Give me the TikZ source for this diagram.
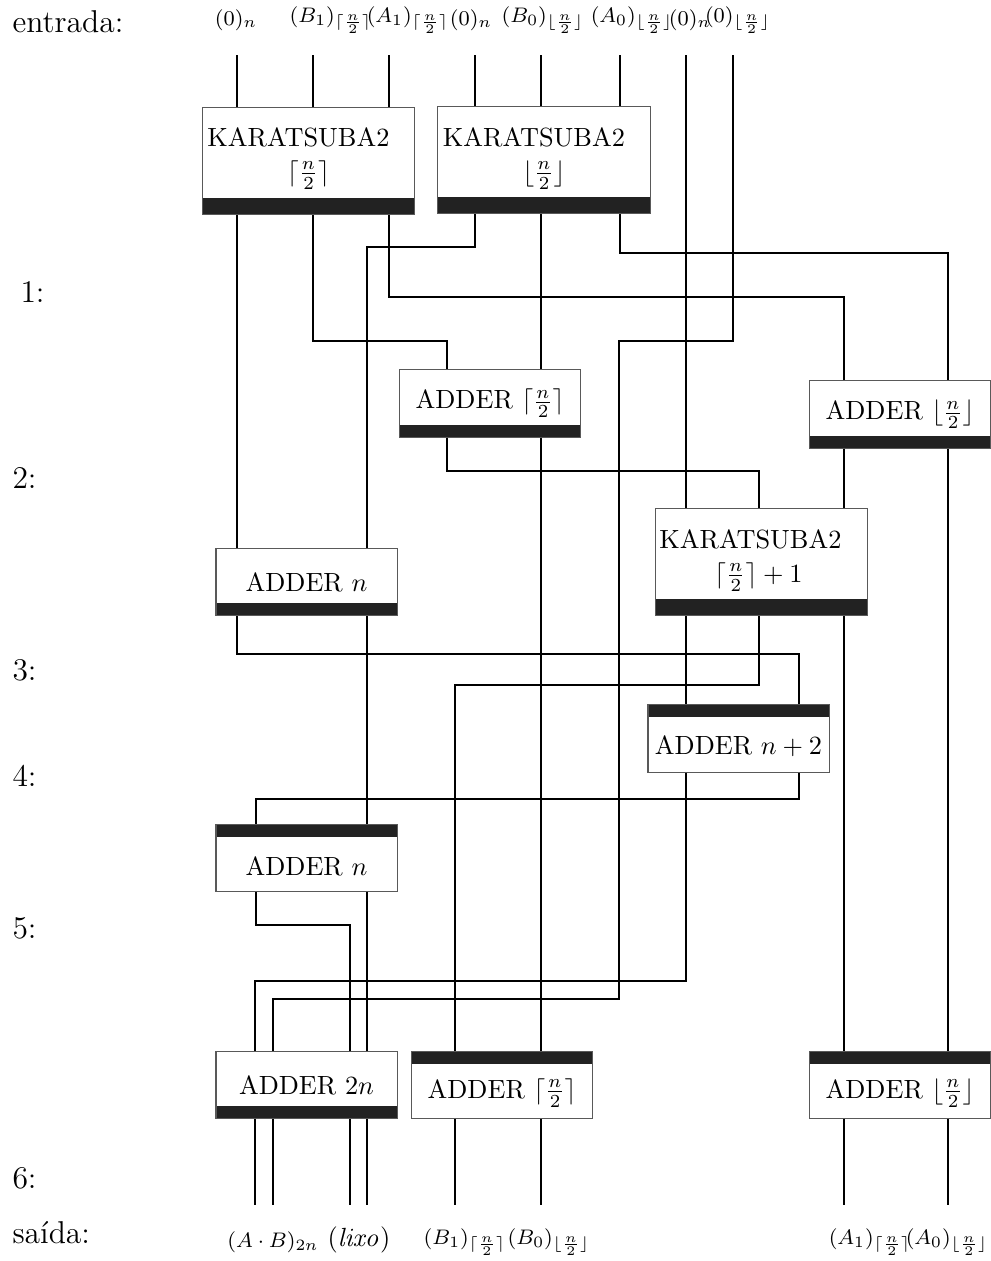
\documentclass[tikz,border=0pt]{standalone}
\usepackage{amsmath, amssymb}
\usepackage{xcolor}
\usepackage{tikz}
\usetikzlibrary{calc}

\definecolor{barblack}{HTML}{222222}
\newcommand{\cln}{\lceil\frac{n}{2}\rceil}
\newcommand{\fln}{\lfloor\frac{n}{2}\rfloor}

\tikzset{
  box/.style={draw=black!65, fill=white, inner sep=0pt},
  kara/.style={box, minimum width=80.6pt, minimum height=41pt},
  adder/.style={box, minimum width=68.8pt, minimum height=25.5pt},
  bar below/.style={path picture={\fill[barblack] (path picture bounding box.south west) rectangle ([yshift=#1]path picture bounding box.south east);}},
  bar above/.style={path picture={\fill[barblack] (path picture bounding box.north west) rectangle ([yshift=-#1]path picture bounding box.north east);}},
  wire/.style={black, line width=0.4pt},
  side/.style={anchor=west, font=\large, inner sep=0pt},
  io/.style={font=\footnotesize, inner sep=0pt},
  txt/.style={inner sep=0pt},
}

\begin{document}
\begin{tikzpicture}[x=0.38pt, y=-0.38pt]
        \useasboundingbox (0,0) rectangle (991,1261);

        % side labels
        \node[side] (lin) at (12,22) {entrada:};
        \node[side] (l1) at (20,292) {1:};
        \node[side] (l2) at (12,478) {2:};
        \node[side] (l3) at (12,670) {3:};
        \node[side] (l4) at (12,776) {4:};
        \node[side] (l5) at (12,928) {5:};
        \node[side] (l6) at (12,1178) {6:};
        \node[side] (lout) at (12,1233) {sa\'ida:};

        % inputs
        \node[io] (in1) at (236,20) {$(0)_n$};
        \node[io] (in2) at (331,20) {$(B_1)_{\cln}$};
        \node[io] (in3) at (408,20) {$(A_1)_{\cln}$};
        \node[io] (in4) at (471,20) {$(0)_n$};
        \node[io] (in5) at (543,20) {$(B_0)_{\fln}$};
        \node[io] (in6) at (632,20) {$(A_0)_{\fln}$};
        \node[io] (in7) at (690,20) {$(0)_n$};
        \node[io] (in8) at (738,20) {$(0)_{\fln}$};
        \coordinate (w1) at (237,55);
        \coordinate (w2) at (313,55);
        \coordinate (w3) at (389,55);
        \coordinate (w4) at (475,55);
        \coordinate (w5) at (541,55);
        \coordinate (w6) at (620,55);
        \coordinate (w7) at (686,55);
        \coordinate (w8) at (733,55);

        % outputs
        \node[io] (out1) at (273,1242) {$(A\cdot B)_{2n}$};
        \node[txt] (out2) at (359,1240) {$(\mathit{lixo})$};
        \node[io] (out3) at (465,1242) {$(B_1)_{\cln}$};
        \node[io] (out4) at (549,1242) {$(B_0)_{\fln}$};
        \node[io] (out5) at (870,1242) {$(A_1)_{\cln}$};
        \node[io] (out6) at (947,1242) {$(A_0)_{\fln}$};

        % blocks
        \node[kara, bar below=6.5pt] (k1) at (308.5,161) {};
        \node[txt, anchor=base west] (k1a) at ([shift={(5,-15)}]k1.west) {KARATSUBA2};
        \node[txt] (k1b) at ([shift={(0,14)}]k1.center) {$\cln$};
        \node[kara, bar below=6.5pt] (k2) at (544,160) {};
        \node[txt, anchor=base west] (k2a) at ([shift={(5,-14)}]k2.west) {KARATSUBA2};
        \node[txt] (k2b) at ([shift={(0,15)}]k2.center) {$\fln$};
        \node[kara, bar below=6.5pt] (k3) at (761.5,562) {};
        \node[txt, anchor=base west] (k3a) at ([shift={(4,-14)}]k3.west) {KARATSUBA2};
        \node[txt] (k3b) at ([shift={(-3,15)}]k3.center) {$\cln+1$};

        \node[adder, bar below=4.6pt] (a1) at (490,403.5) {ADDER $\cln$};
        \node[adder, bar below=4.6pt] (a2) at (900,414.5) {ADDER $\fln$};
        \node[adder, bar below=4.6pt] (a3) at (306.5,582) {ADDER $n$};
        \node[adder, bar above=4.6pt] (a4) at (738.5,738.5) {};
        \node[txt] (a4t) at ([yshift=-3pt]a4.center) {ADDER $n+2$};
        \node[adder, bar above=4.6pt] (a5) at (306.5,858) {};
        \node[txt] (a5t) at ([yshift=-3pt]a5.center) {ADDER $n$};
        \node[adder, bar below=4.6pt] (a6) at (306.5,1085) {ADDER $2n$};
        \node[adder, bar above=4.6pt] (a7) at (502,1085) {};
        \node[txt] (a7t) at ([yshift=-3pt]a7.center) {ADDER $\cln$};
        \node[adder, bar above=4.6pt] (a8) at (900,1085) {};
        \node[txt] (a8t) at ([yshift=-3pt]a8.center) {ADDER $\fln$};

        % wires into the first multipliers
        \foreach \w in {w1,w2,w3} \draw[wire] (\w) -- (\w |- k1.north);
        \foreach \w in {w4,w5,w6} \draw[wire] (\w) -- (\w |- k2.north);
        \draw[wire] (w7) -- (w7 |- k3.north);
        \draw[wire] (w8) |- (619,341) |- (273,999) -- (a6.north -| 273,0);

        % level 1
        \draw[wire] (k1.south -| w1) -- (a3.north -| w1);
        \draw[wire] (k1.south -| w2) |- (447,341) -- (a1.north -| 447,0);
        \draw[wire] (k1.south -| w3) |- (844,297) -- (a2.north -| 844,0);
        \draw[wire] (k2.south -| w4) |- (367,247) -- (a3.north -| 367,0);
        \draw[wire] (k2.south -| w5) -- (a1.north -| w5);
        \draw[wire] (k2.south -| w6) |- (948,253) -- (a2.north -| 948,0);

        % level 2
        \draw[wire] (a1.south -| 447,0) |- (759,471) -- (k3.north -| 759,0);
        \draw[wire] (a1.south -| w5) -- (a7.north -| w5);
        \draw[wire] (a2.south -| 844,0) -- (k3.north -| 844,0);
        \draw[wire] (a2.south -| 948,0) -- (a8.north -| 948,0);

        % level 3
        \draw[wire] (k3.south -| w7) -- (a4.north -| w7);
        \draw[wire] (k3.south -| 759,0) |- (455,685) -- (a7.north -| 455,0);
        \draw[wire] (k3.south -| 844,0) -- (a8.north -| 844,0);
        \draw[wire] (a3.south -| w1) |- (799,654) -- (a4.north -| 799,0);
        \draw[wire] (a3.south -| 367,0) -- (a5.north -| 367,0);

        % levels 4 and 5
        \draw[wire] (a4.south -| w7) |- (255,981) -- (a6.north -| 255,0);
        \draw[wire] (a4.south -| 799,0) |- (256,799) -- (a5.north -| 256,0);
        \draw[wire] (a5.south -| 256,0) |- (350,925) -- (a6.north -| 350,0);
        \draw[wire] (a5.south -| 367,0) -- (a6.north -| 367,0);

        % to the outputs
        \foreach \x in {255,273,350,367} \draw[wire] (a6.south -| \x,0) -- (\x,1205);
        \foreach \x in {455,541} \draw[wire] (a7.south -| \x,0) -- (\x,1205);
        \foreach \x in {844,948} \draw[wire] (a8.south -| \x,0) -- (\x,1205);
    \end{tikzpicture}
\end{document}
